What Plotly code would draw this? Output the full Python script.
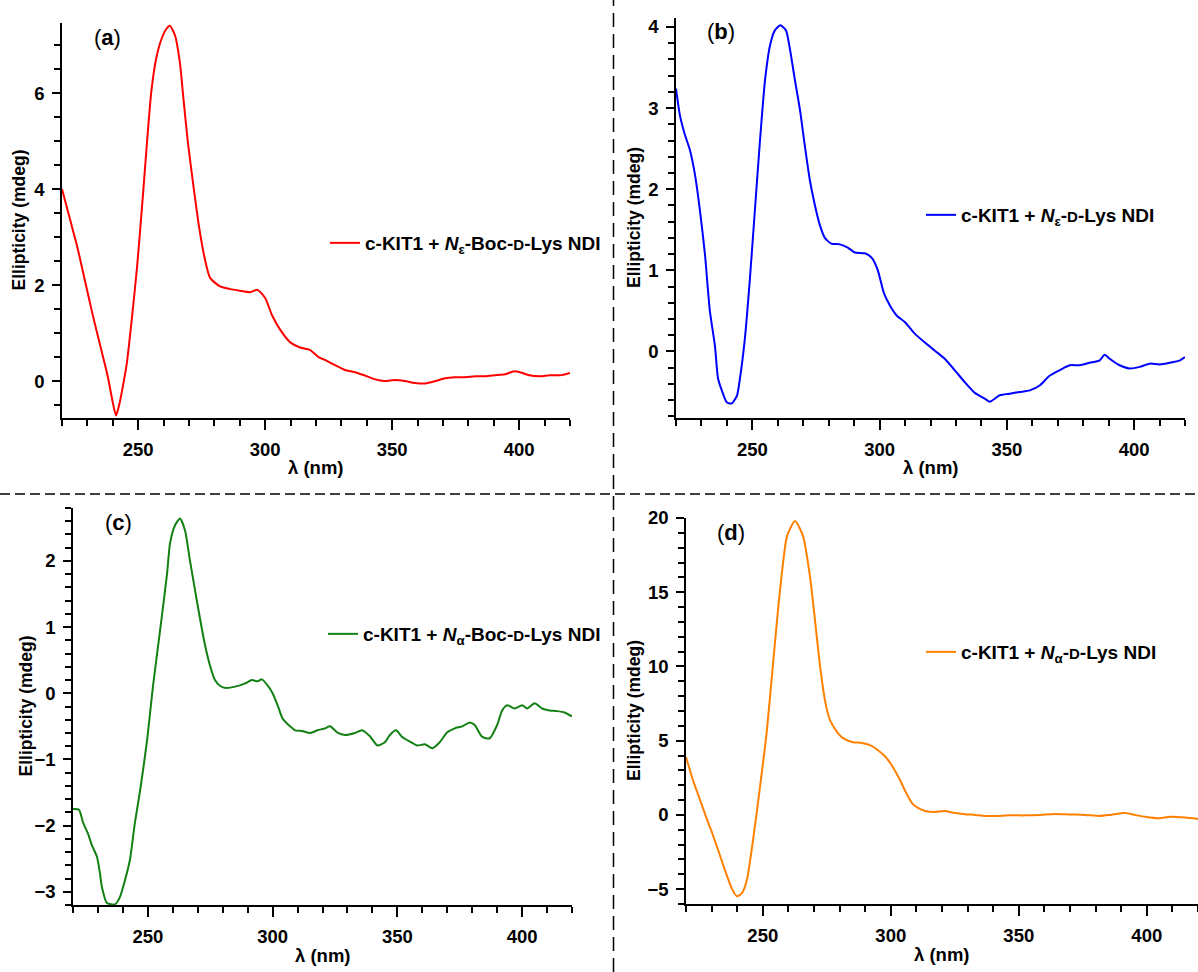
import plotly.graph_objects as go

# ---------------- data ----------------
wl_a = [220, 223, 226, 229, 232, 235, 238, 240, 241.3, 242.5, 244, 245.6, 247.5, 249.6, 251.9, 253.5, 255.1, 257, 259, 261, 262.5, 264.5, 266.5, 267.6, 269.5, 271.9, 274, 276, 278.3, 282, 286, 290, 294, 297, 300, 302.7, 306, 310, 313.7, 317.6, 321, 323.5, 327.5, 331.4, 335, 339, 343, 347, 351, 355, 359, 363, 367, 370.8, 374.7, 378.7, 382.6, 386.5, 390.5, 394.4, 397.6, 400, 404, 408, 412, 416, 420]
val_a = [4.0, 3.4, 2.8, 2.1, 1.4, 0.75, 0.1, -0.45, -0.72, -0.5, -0.1, 0.4, 1.3, 2.4, 3.9, 5.0, 6.0, 6.7, 7.1, 7.33, 7.4, 7.2, 6.6, 6.0, 5.0, 4.0, 3.2, 2.6, 2.15, 1.98, 1.92, 1.88, 1.85, 1.9, 1.73, 1.37, 1.06, 0.8, 0.7, 0.65, 0.5, 0.44, 0.33, 0.23, 0.19, 0.12, 0.04, 0.0, 0.02, 0.0, -0.04, -0.05, 0.0, 0.06, 0.08, 0.08, 0.1, 0.1, 0.12, 0.14, 0.2, 0.19, 0.12, 0.1, 0.12, 0.12, 0.17]

wl_b = [220, 221.6, 223.5, 225.5, 227.5, 229.4, 231.4, 233.3, 235.3, 236.5, 238, 240, 242, 244, 245, 247, 249, 251, 253, 255, 257, 258.9, 261, 263.2, 264.8, 266.7, 268.7, 270.6, 272.6, 274.6, 276.5, 278.5, 281, 284.4, 287.5, 290.3, 294.2, 297, 299.3, 301.7, 304, 306.8, 310, 313.8, 317.8, 321.7, 325.6, 329.5, 333.5, 337.4, 341.3, 343.3, 347.2, 351.1, 355, 359, 362.9, 366.8, 370.8, 374.7, 378.6, 382.5, 386.5, 388.4, 390.4, 394.3, 398.2, 402.2, 406.1, 410, 414, 418, 420]
val_b = [3.24, 2.9, 2.67, 2.48, 2.17, 1.74, 1.19, 0.5, 0.07, -0.33, -0.48, -0.63, -0.64, -0.54, -0.36, 0.14, 0.88, 1.74, 2.6, 3.35, 3.78, 3.96, 4.02, 3.96, 3.72, 3.35, 2.98, 2.54, 2.11, 1.8, 1.56, 1.4, 1.33, 1.32, 1.28, 1.22, 1.21, 1.15, 1.0, 0.72, 0.57, 0.44, 0.36, 0.22, 0.11, 0.01, -0.09, -0.23, -0.38, -0.51, -0.58, -0.62, -0.54, -0.52, -0.5, -0.48, -0.42, -0.3, -0.23, -0.17, -0.17, -0.14, -0.11, -0.04, -0.09, -0.17, -0.21, -0.19, -0.15, -0.16, -0.14, -0.11, -0.07]

wl_c = [220, 222.4, 224, 226, 227.6, 229.6, 230.8, 231.6, 233.6, 236.8, 238.8, 240.8, 242.8, 244.8, 246.9, 249.7, 252, 254.9, 257.7, 258.9, 260.9, 262.9, 264.9, 266.9, 268.9, 270.9, 272.9, 274.9, 276.9, 279, 281.3, 285, 289, 291.7, 294, 295.7, 298, 300, 302, 304, 307, 309, 311.8, 315, 318, 321, 323, 326.2, 329, 333, 335.8, 339, 342, 345, 347, 349.5, 351.9, 355, 358, 361, 364, 367, 370, 373, 376, 379, 381, 384, 387, 390, 392, 394, 397, 400, 402, 405, 408, 411, 414, 417, 420]
val_c = [-1.75, -1.76, -1.95, -2.12, -2.3, -2.47, -2.72, -2.93, -3.17, -3.19, -3.08, -2.83, -2.52, -1.96, -1.47, -0.71, 0.09, 0.95, 1.81, 2.27, 2.54, 2.64, 2.46, 2.0, 1.56, 1.13, 0.73, 0.42, 0.2, 0.11, 0.08, 0.1, 0.15, 0.2, 0.18, 0.21, 0.12, 0.0, -0.18, -0.38, -0.5, -0.56, -0.57, -0.6, -0.56, -0.53, -0.5, -0.6, -0.63, -0.6, -0.56, -0.65, -0.79, -0.74, -0.63, -0.56, -0.66, -0.73, -0.79, -0.77, -0.83, -0.74, -0.59, -0.53, -0.5, -0.44, -0.48, -0.66, -0.68, -0.48, -0.26, -0.18, -0.23, -0.18, -0.23, -0.15, -0.23, -0.26, -0.27, -0.29, -0.35]

wl_d = [220, 222.7, 225.5, 228.2, 230.5, 233.3, 236, 238, 239.9, 241.9, 243.8, 246.2, 248.9, 251.6, 254, 256.7, 259.5, 262.6, 265.7, 268.4, 270.4, 272.3, 274.3, 276.2, 279.4, 282, 285.2, 288.7, 291.9, 295, 298, 300.9, 303.6, 306, 308.3, 310.6, 313.4, 317, 321, 325, 329, 333, 336.8, 340.7, 346.6, 352.4, 358.3, 364, 370, 375.9, 381.7, 385.6, 391.5, 395.4, 399.3, 405, 409, 415, 420]
val_d = [3.9, 2.35, 1.0, -0.3, -1.35, -2.75, -4.1, -5.0, -5.48, -5.25, -4.36, -1.68, 1.88, 5.7, 10.2, 15.1, 18.8, 19.8, 18.8, 16.1, 13.1, 10.1, 7.7, 6.4, 5.5, 5.1, 4.9, 4.85, 4.7, 4.36, 3.9, 3.2, 2.35, 1.48, 0.8, 0.47, 0.27, 0.2, 0.27, 0.13, 0.05, 0.0, -0.07, -0.07, -0.03, -0.03, 0.0, 0.07, 0.03, 0.0, -0.07, 0.0, 0.13, 0.0, -0.13, -0.23, -0.13, -0.18, -0.27]

series_names = [
    "c-KIT1 + <i>N</i><sub>ε</sub>-Boc-<span style='font-size:15px'>D</span>-Lys NDI",
    "c-KIT1 + <i>N</i><sub>ε</sub>-<span style='font-size:15px'>D</span>-Lys NDI",
    "c-KIT1 + <i>N</i><sub>α</sub>-Boc-<span style='font-size:15px'>D</span>-Lys NDI",
    "c-KIT1 + <i>N</i><sub>α</sub>-<span style='font-size:15px'>D</span>-Lys NDI",
]
colors = ["#ff0000", "#0000ff", "#138013", "#ff8000"]
panel_labels = ["a", "b", "c", "d"]

W, H = 1198, 972
FONT = "Liberation Sans, Arial, sans-serif"

# plot-area boxes in pixels: (left, right, top, bottom)
boxes = [(62, 570, 23, 418), (676, 1185, 18, 418), (73, 572, 508, 905), (686, 1198, 518, 904)]
yranges = [(-0.77, 7.46), (-0.82, 4.11), (-3.2, 2.8), (-6, 20)]
ydticks = [2, 1, 1, 5]
yminor = [0.5, 0.2, 0.2, 1]
ytitle_x = [18, 634, 25, 634]

fig = go.Figure()
data = [(wl_a, val_a), (wl_b, val_b), (wl_c, val_c), (wl_d, val_d)]
for i, (wl, v) in enumerate(data):
    sfx = "" if i == 0 else str(i + 1)
    fig.add_trace(go.Scatter(
        x=wl, y=v, mode="lines", name=series_names[i],
        line=dict(color=colors[i], width=2, shape="spline", smoothing=0.6),
        xaxis="x" + sfx, yaxis="y" + sfx, legend="legend" + sfx,
        showlegend=True,
    ))

layout = dict(
    width=W, height=H, margin=dict(l=0, r=0, t=0, b=0, pad=0, autoexpand=False),
    paper_bgcolor="white", plot_bgcolor="white",
    font=dict(family=FONT, color="black", size=18),
)

legend_pos = [(325, 243), (921, 215), (323, 634), (921, 652)]
annotations = []
shapes = []
for i, (l, r, t, b) in enumerate(boxes):
    sfx = "" if i == 0 else str(i + 1)
    xa = dict(
        domain=[l / W, r / W], range=[220, 420], anchor="y" + sfx,
        showline=True, linecolor="black", linewidth=1.5, mirror=False,
        ticks="outside", ticklen=10, tickwidth=1.5, tickcolor="black",
        tickvals=[250, 300, 350, 400], automargin=False,
        showgrid=False, zeroline=False,
        tickfont=dict(family=FONT, size=18.5, weight="bold"),
        ticklabelstandoff=4,
        minor=dict(dtick=10, tick0=0, ticks="outside", ticklen=6, tickwidth=1.5, tickcolor="black", showgrid=False),
    )
    ya = dict(
        domain=[1 - b / H, 1 - t / H], range=list(yranges[i]), anchor="x" + sfx,
        showline=True, linecolor="black", linewidth=1.5, mirror=False,
        ticks="outside", ticklen=8, tickwidth=1.5, tickcolor="black",
        dtick=ydticks[i], tick0=0, automargin=False,
        showgrid=False, zeroline=False,
        tickfont=dict(family=FONT, size=18.5, weight="bold"),
        ticklabelstandoff=4,
        minor=dict(dtick=yminor[i], tick0=0, ticks="outside", ticklen=6, tickwidth=1.5, tickcolor="black", showgrid=False),
    )
    layout["xaxis" + sfx] = xa
    layout["yaxis" + sfx] = ya
    lx, ly = legend_pos[i]
    layout["legend" + sfx] = dict(
        x=lx / W, y=1 - ly / H, xanchor="left", yanchor="middle",
        xref="paper", yref="paper", bgcolor="rgba(0,0,0,0)", borderwidth=0,
        font=dict(family=FONT, size=19, color="black", weight="bold"),
    )
    # axis titles
    annotations.append(dict(
        text="λ (nm)", xref="paper", yref="paper",
        x=(l + r) / 2 / W, y=1 - (b + 50) / H, showarrow=False,
        font=dict(family=FONT, size=18.5, weight="bold"), xanchor="center", yanchor="middle"))
    annotations.append(dict(
        text="Ellipticity (mdeg)", xref="paper", yref="paper",
        x=ytitle_x[i] / W, y=1 - (t + b) / 2 / H, showarrow=False, textangle=-90,
        font=dict(family=FONT, size=17.5, weight="bold"), xanchor="center", yanchor="middle"))
    # panel label
    annotations.append(dict(
        text="(<b>%s</b>)" % panel_labels[i], xref="paper", yref="paper",
        x=(l + 45) / W, y=1 - (t + 14) / H, showarrow=False,
        font=dict(family=FONT, size=22), xanchor="center", yanchor="middle"))

# dashed separators
shapes.append(dict(type="line", xref="paper", yref="paper", x0=613.5 / W, x1=613.5 / W, y0=0, y1=1,
                   line=dict(color="black", width=1.5, dash="14px,7px")))
shapes.append(dict(type="line", xref="paper", yref="paper", x0=0, x1=1, y0=1 - 494 / H, y1=1 - 494 / H,
                   line=dict(color="black", width=1.5, dash="10px,5px")))

layout["annotations"] = annotations
layout["shapes"] = shapes
fig.update_layout(**layout)
fig.write_html("out.html")
